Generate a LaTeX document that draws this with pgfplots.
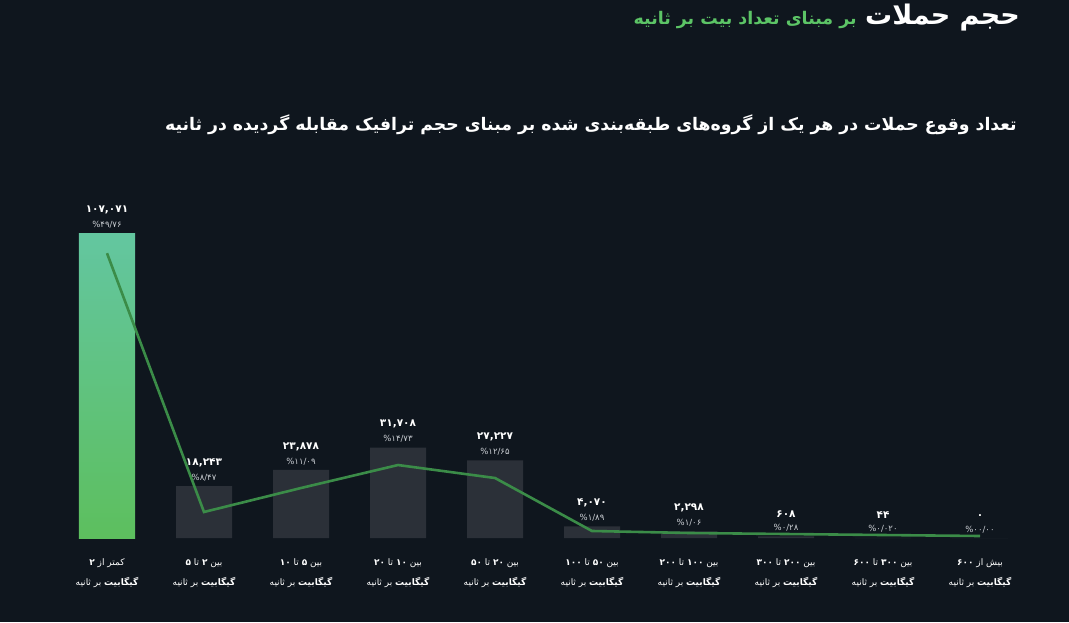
\documentclass[border=0pt]{standalone}
\usepackage{pgfplots}
\pgfplotsset{compat=1.18}
\usepackage{pgfplotstable}
\usepackage{fontspec}
\setmainfont[Script=Arabic]{DejaVu Sans}
\TeXXeTstate=1

\definecolor{bgcol}{HTML}{0F161E}
\definecolor{graybar}{HTML}{2B3038}
\definecolor{linegreen}{HTML}{3B8C48}
\definecolor{titlegreen}{HTML}{5CC466}
\definecolor{bartop}{HTML}{63C6A0}
\definecolor{barbot}{HTML}{5DBF5E}
\definecolor{ticktext}{HTML}{9AA0A8}
\definecolor{tickbold}{HTML}{E2E5E8}
\definecolor{pctcol}{HTML}{C9CDD2}

% bars: category index, count, labels (digits only)
\pgfplotstableread{
x y val pct
0 107071 ۱۰۷,۰۷۱ ۴۹/۷۶
1 18243 ۱۸,۲۴۳ ۸/۴۷
2 23878 ۲۳,۸۷۸ ۱۱/۰۹
3 31708 ۳۱,۷۰۸ ۱۴/۷۳
4 27227 ۲۷,۲۲۷ ۱۲/۶۵
5 4070 ۴,۰۷۰ ۱/۸۹
6 2298 ۲,۲۹۸ ۱/۰۶
7 608 ۶۰۸ ۰/۲۸
8 44 ۴۴ ۰/۰۲۰
9 0 ۰ ۰۰/۰۰
}\bars

% trend line
\pgfplotstableread{
x y
0 100000
1 9130
2 17550
3 25620
4 21060
5 2460
6 1760
7 1400
8 1050
9 700
}\trend

% coloured pieces kept inside their own box so that the RTL reversal
% does not tear the colour push/pop apart
\newcommand{\cbox}[2]{\hbox{\begingroup\color{#1}#2\endgroup}}
\newcommand{\gt}[1]{\cbox{ticktext}{#1}}
\newcommand{\bn}[1]{\cbox{tickbold}{\bfseries #1}}
\newcommand{\gb}{\beginR\bn{گیگابیت} \gt{بر} \gt{ثانیه}\endR}

\begin{document}
\begin{tikzpicture}
\fill[bgcol] (-58.5pt,-84pt) rectangle (1010.5pt,538pt);
\useasboundingbox (-58.5pt,-84pt) rectangle (1010.5pt,538pt);

\begin{axis}[
  scale only axis,
  width=970pt, height=341.8pt,
  xmin=-0.5, xmax=9.5,
  ymin=0, ymax=120000,
  axis line style={draw=none},
  ytick=\empty,
  xtick={0,...,9},
  major tick length=0pt,
  xticklabels={
    {\beginR\gt{کمتر} \gt{از} \bn{۲}\endR\\\gb},
    {\beginR\gt{بین} \bn{۲} \gt{تا} \bn{۵}\endR\\\gb},
    {\beginR\gt{بین} \bn{۵} \gt{تا} \bn{۱۰}\endR\\\gb},
    {\beginR\gt{بین} \bn{۱۰} \gt{تا} \bn{۲۰}\endR\\\gb},
    {\beginR\gt{بین} \bn{۲۰} \gt{تا} \bn{۵۰}\endR\\\gb},
    {\beginR\gt{بین} \bn{۵۰} \gt{تا} \bn{۱۰۰}\endR\\\gb},
    {\beginR\gt{بین} \bn{۱۰۰} \gt{تا} \bn{۲۰۰}\endR\\\gb},
    {\beginR\gt{بین} \bn{۲۰۰} \gt{تا} \bn{۳۰۰}\endR\\\gb},
    {\beginR\gt{بین} \bn{۳۰۰} \gt{تا} \bn{۶۰۰}\endR\\\gb},
    {\beginR\gt{بیش} \gt{از} \bn{۶۰۰}\endR\\\gb}
  },
  xticklabel style={align=center, font=\fontsize{9}{20}\selectfont, yshift=-17pt},
  clip=false,
  every node near coord/.append style={anchor=south, inner sep=0pt},
]
% first bar, gradient
\addplot[ybar, bar width=56pt, bar shift=0pt, draw=none, top color=bartop, bottom color=barbot,
  skip coords between index={1}{10}] table[x=x, y=y] {\bars};
% other bars
\addplot[ybar, bar width=56pt, bar shift=0pt, draw=none, fill=graybar,
  skip coords between index={0}{1}] table[x=x, y=y] {\bars};
% value labels
\addplot[ybar, bar width=56pt, bar shift=0pt, draw=none, fill=none,
  point meta=explicit symbolic,
  nodes near coords={\pgfplotspointmeta},
  every node near coord/.append style={yshift=19pt, text=white, font=\bfseries\fontsize{10.5}{12}\selectfont},
] table[x=x, y=y, meta=val] {\bars};
% percentage labels
\addplot[ybar, bar width=56pt, bar shift=0pt, draw=none, fill=none,
  point meta=explicit symbolic,
  nodes near coords={\%\pgfplotspointmeta},
  every node near coord/.append style={yshift=5pt, text=pctcol, font=\fontsize{8.5}{9}\selectfont},
] table[x=x, y=y, meta=pct] {\bars};
\addplot[sharp plot, no marks, color=linegreen, line width=2.6pt] table[x=x, y=y] {\trend};
\end{axis}

\node[anchor=east, inner sep=0pt, text=white, font=\bfseries\fontsize{27}{30}\selectfont] (t1) at (961.5pt,520pt)
  {\beginR حجم حملات\endR};
\node[anchor=base east, inner sep=0pt, text=titlegreen, font=\bfseries\fontsize{17.4}{20}\selectfont] at ([xshift=-8pt]t1.base west)
  {\beginR بر مبنای تعداد بیت بر ثانیه\endR};
\node[anchor=east, inner sep=0pt, text=white] at (958.5pt,413pt)
  {\bfseries\fontsize{17.3}{20}\selectfont\beginR تعداد وقوع حملات در هر یک از گروه‌های طبقه‌بندی شده بر مبنای حجم ترافیک مقابله گردیده در ثانیه\endR};
\end{tikzpicture}
\end{document}
